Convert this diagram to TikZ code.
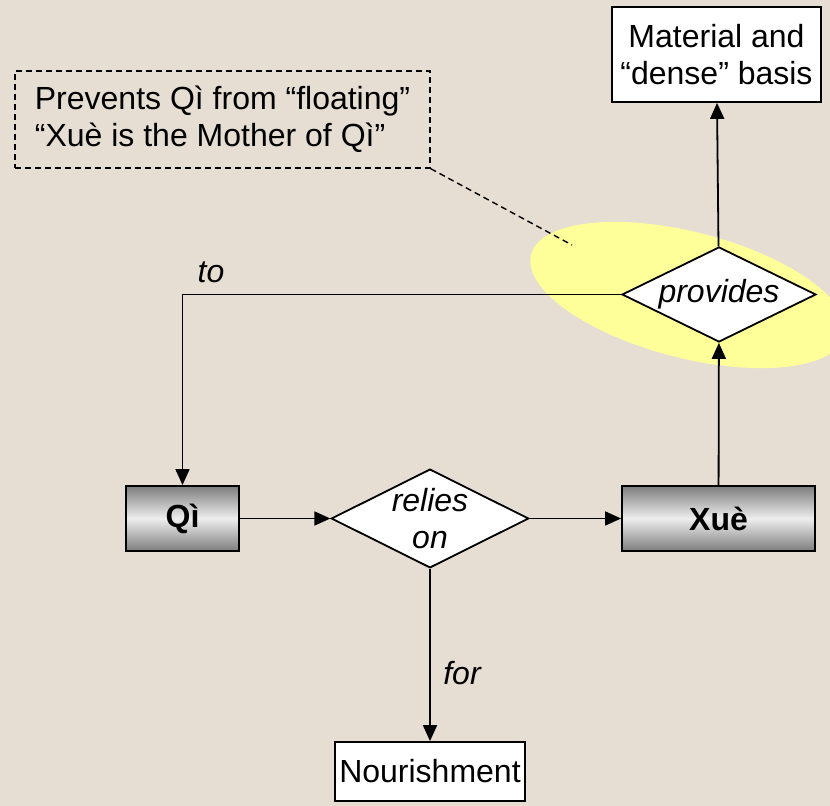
\documentclass[tikz,border=0pt]{standalone}
\usepackage{fontspec}
\setmainfont{Liberation Sans}
\usetikzlibrary{shapes.geometric,arrows.meta}
\definecolor{paper}{RGB}{230,222,211}
\definecolor{hilite}{RGB}{255,255,153}
\definecolor{shadedark}{RGB}{125,125,125}
\definecolor{shadelight}{RGB}{238,238,238}

\begin{document}
\begin{tikzpicture}[x=.5pt,y=-.5pt,
		every node/.style={font=\fontsize{16}{18.5}\selectfont},
		box/.style={draw,fill=white,line width=.9pt,inner sep=0pt,align=center},
		shadebox/.style={draw,line width=.9pt,inner sep=0pt,
			top color=shadedark,bottom color=shadedark,middle color=shadelight,
			font=\fontsize{16}{18.5}\selectfont\bfseries},
		decision/.style={diamond,aspect=2,draw,fill=white,line width=.9pt,inner sep=0pt,
			minimum width=97pt,minimum height=47.5pt,align=center,
			font=\fontsize{16}{18.5}\selectfont\itshape},
		lbl/.style={anchor=base,font=\fontsize{16}{18.5}\selectfont\itshape},
		notebox/.style={line width=.7pt,dash pattern=on 3pt off 2pt},
		link/.style={line width=.9pt,-{Triangle[length=8pt,width=7pt]}}]
			\useasboundingbox (0,0) rectangle (830,806);
			\clip (0,0) rectangle (830,806);
			\fill[paper] (0,0) rectangle (830,806);
			\fill[hilite,rotate around={-14.4:(688,295)}]
				(688,295) ellipse [x radius=162,y radius=63];

			\node[draw,notebox,inner sep=0pt,align=left,
				minimum width=207.5pt,minimum height=48.5pt] (note) at (222.5,119.5)
				{Prevents Qì from “floating”\\“Xuè is the Mother of Qì”};
			\coordinate (tip) at (572,245);
			\draw[notebox] (note.south east) -- (tip);

			\node[box,minimum width=104.5pt,minimum height=47.5pt] (mat) at (716.5,54.5)
				{Material and\\“dense” basis};
			\node[decision] (prov) at (719,294.5) {provides};
			\node[shadebox,minimum width=56.5pt,minimum height=32.5pt] (qi) at (182.5,518.5) {Qì};
			\node[decision] (rel) at (430,518.5) {relies\\on};
			\node[shadebox,minimum width=96.5pt,minimum height=32.5pt] (xue) at (718.5,518.5) {Xuè};
			\node[box,minimum width=95pt,minimum height=29.5pt] (nour) at (430,771.5) {Nourishment};

			\draw[link] (qi) -- (rel);
			\draw[link] (rel) -- (xue);
			\draw[link] (xue) -- (prov);
			\draw[link] (prov) -- (mat);
			\draw[link] (prov.west) -| (qi.north);
			\draw[link] (rel) -- (nour);

			\node[lbl] (to) at (211,283) {to};
			\node[lbl] (for) at (462,684) {for};
		\end{tikzpicture}
\end{document}
